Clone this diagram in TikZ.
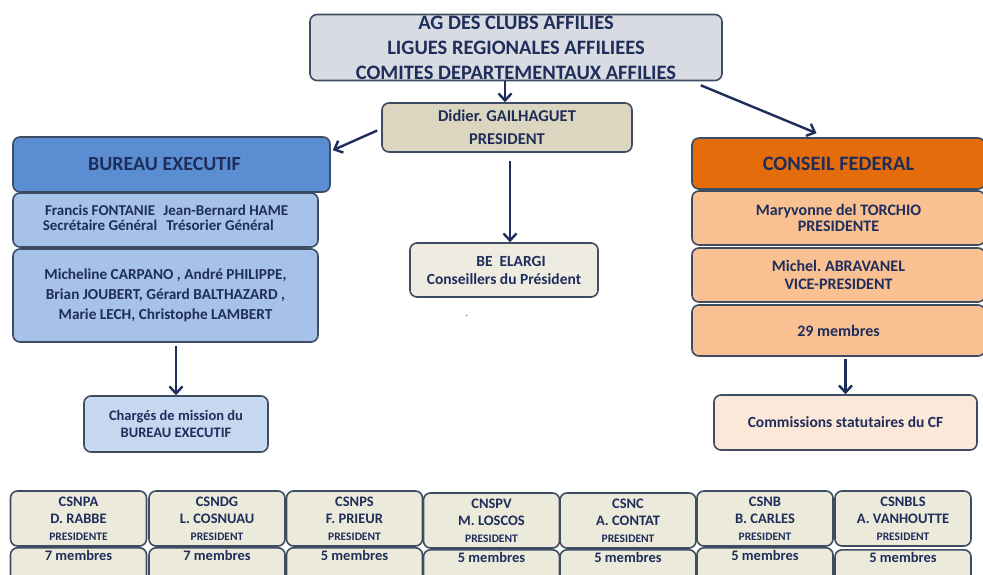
\documentclass[tikz,border=0pt]{standalone}
\usepackage{fontspec}
\setmainfont{Carlito}
\usetikzlibrary{arrows.meta}
\definecolor{navy}{HTML}{1F2D5A}
\definecolor{edge}{HTML}{3E4C62}
\definecolor{agfill}{HTML}{D8DCE2}
\definecolor{presfill}{HTML}{DCD6C0}
\definecolor{befill}{HTML}{EEEBE0}
\definecolor{bufill}{HTML}{5A8DD2}
\definecolor{bulight}{HTML}{A6C2E8}
\definecolor{buxlight}{HTML}{C6D8F0}
\definecolor{cffill}{HTML}{E46C0A}
\definecolor{cflight}{HTML}{F9C091}
\definecolor{cfxlight}{HTML}{FCE8D8}
\definecolor{csfill}{HTML}{ECEBDB}
\tikzset{
  box/.style={draw=edge,line width=1.6pt,rounded corners=7pt,align=center,text=navy,
    font=\bfseries,inner sep=0pt},
  link/.style={draw=navy,line width=2.4pt,-{Straight Barb[length=7pt,width=13pt,line width=2.4pt]}},
}
\newcommand{\fsz}[2]{\fontsize{#1}{#2}\selectfont}
\frenchspacing
\begin{document}
\begin{tikzpicture}[x=1pt,y=-1pt]
				\useasboundingbox (0,0) rectangle (983,574);
				\clip (0,0) rectangle (983,574);
				% top of the federation
				\node[box,fill=agfill,minimum width=412,minimum height=66,font=\bfseries\fsz{20.5}{25}] (ag) at (516,47.5) {AG DES CLUBS AFFILIES\\LIGUES REGIONALES AFFILIEES\\COMITES DEPARTEMENTAUX AFFILIES};
				\node[box,fill=presfill,minimum width=250,minimum height=49,font=\bfseries\fsz{16.5}{23}] (pres) at (507,127.5) {Didier. GAILHAGUET\\PRESIDENT};
				\node[box,fill=befill,minimum width=188,minimum height=54,font=\bfseries\fsz{15.5}{18}] (be) at (504,270) {\hspace*{14pt}BE\ \ ELARGI\\Conseillers du Président};
				\node[text=navy,inner sep=0pt,font=\fsz{10}{10}] (dot) at (467,316) {.};
				% bureau executif
				\node[box,fill=bufill,minimum width=317,minimum height=55,font=\bfseries\fsz{20}{22}] (bureau) at (171.5,164.5) {BUREAU EXECUTIF\hspace*{14pt}};
				\node[box,fill=bulight,minimum width=305,minimum height=54,font=\bfseries\fsz{15}{14.5}] (bsec) at (165.5,220) {\begin{tabular}{@{}c@{\hspace{6pt}}l@{}}Francis FONTANIE&Jean-Bernard HAME\\Secrétaire Général&\hspace{3pt}Trésorier Général\end{tabular}};
				\node[box,fill=bulight,minimum width=305,minimum height=93,font=\bfseries\fsz{15.3}{20}] (bmem) at (165.5,295.5) {Micheline CARPANO , André PHILIPPE,\\Brian JOUBERT, Gérard BALTHAZARD ,\\Marie LECH, Christophe LAMBERT};
				\node[box,fill=buxlight,minimum width=184,minimum height=56,font=\bfseries\fsz{14.5}{17.5}] (charges) at (176,424) {Chargés de mission du\\BUREAU EXECUTIF};
				% conseil federal
				\node[box,fill=cffill,minimum width=293,minimum height=51,font=\bfseries\fsz{20.5}{22}] (cf) at (838.5,163.5) {CONSEIL FEDERAL};
				\node[box,fill=cflight,minimum width=293,minimum height=54,font=\bfseries\fsz{16}{16.5}] (cfpres) at (838.5,218) {Maryvonne del TORCHIO\\PRESIDENTE};
				\node[box,fill=cflight,minimum width=293,minimum height=54,font=\bfseries\fsz{16}{18}] (cfvice) at (838.5,275) {Michel. ABRAVANEL\\VICE-PRESIDENT};
				\node[box,fill=cflight,minimum width=293,minimum height=51,font=\bfseries\fsz{16}{18}] (cfmem) at (838.5,330.5) {29 membres};
				\node[box,fill=cfxlight,minimum width=263,minimum height=55,font=\bfseries\fsz{15.5}{18}] (comm) at (845.5,422.5) {Commissions statutaires du CF};
				% commissions nationales
				\tikzset{csbox/.style={box,fill=csfill,minimum width=136,minimum height=55,font=\bfseries\fsz{14.5}{17}},
					cmbox/.style={box,fill=csfill,anchor=north,minimum width=136,text height=13pt,text depth=22pt,font=\bfseries\fsz{14.5}{17}}}
				\node[csbox] (cs1) at (78.5,518.5) {CSNPA\\D. RABBE\\{\fsz{11.5}{14}PRESIDENTE}};
				\node[csbox] (cs2) at (217,518.5) {CSNDG\\L. COSNUAU\\{\fsz{11.5}{14}PRESIDENT}};
				\node[csbox] (cs3) at (354.5,518.5) {CSNPS\\F. PRIEUR\\{\fsz{11.5}{14}PRESIDENT}};
				\node[csbox] (cs4) at (491.5,520.5) {CNSPV\\M. LOSCOS\\{\fsz{11.5}{14}PRESIDENT}};
				\node[csbox] (cs5) at (628,520.5) {CSNC\\A. CONTAT\\{\fsz{11.5}{14}PRESIDENT}};
				\node[csbox] (cs6) at (765,518.5) {CSNB\\B. CARLES\\{\fsz{11.5}{14}PRESIDENT}};
				\node[csbox] (cs7) at (903,518.5) {CSNBLS\\A. VANHOUTTE\\{\fsz{11.5}{14}PRESIDENT}};
				\node[cmbox] (m1) at (78.5,547) {7 membres};
				\node[cmbox] (m2) at (217,547) {7 membres};
				\node[cmbox] (m3) at (354.5,547) {5 membres};
				\node[cmbox] (m4) at (491.5,549) {5 membres};
				\node[cmbox] (m5) at (628,549) {5 membres};
				\node[cmbox] (m6) at (765,547) {5 membres};
				\node[cmbox] (m7) at (903,549) {5 membres};
				% arrows
				\draw[link] ([xshift=-2pt]pres.north |- ag.south) -- ([xshift=-2pt]pres.north);
				\draw[link] ([xshift=-4pt,yshift=-3pt]pres.west) -- ([xshift=2pt,yshift=-14pt]bureau.north east);
				\draw[link] ([xshift=-22pt,yshift=-4pt]ag.south east) -- ([xshift=-22pt,yshift=4pt]cf.north);
				\draw[link] ([xshift=3pt,yshift=-8pt]pres.south) -- ([xshift=3pt]pres.south |- be.north);
				\draw[link] ([yshift=-3pt]charges.north |- bmem.south) -- (charges.north);
				\draw[link] ([yshift=-2pt]comm.north |- cfmem.south) -- (comm.north);
			\end{tikzpicture}
\end{document}
